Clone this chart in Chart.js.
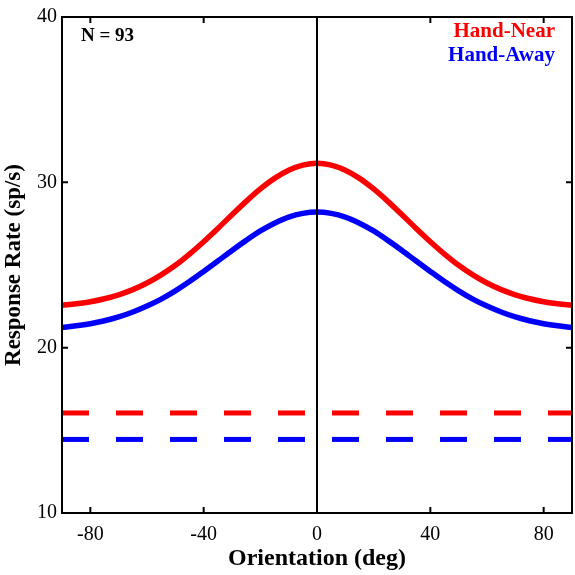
<!DOCTYPE html>
<html>
<head>
<meta charset="utf-8">
<script src="https://cdn.jsdelivr.net/npm/chart.js@4"></script>
<style>
  html, body { margin: 0; padding: 0; background: #fff; }
  #wrap { width: 575px; height: 575px; }
</style>
</head>
<body>
<div id="wrap"><canvas id="tuningChart" width="575" height="575"></canvas></div>
<script>
// orientation (deg) and mean response (sp/s)
const orientations = [-90, -85, -80, -75, -70, -65, -60, -55, -50, -45, -40, -35, -30, -25, -20, -15, -10, -5,
    0, 5, 10, 15, 20, 25, 30, 35, 40, 45, 50, 55, 60, 65, 70, 75, 80, 85, 90];
const handNear = [22.57, 22.66, 22.78, 22.96, 23.20, 23.51, 23.91, 24.40, 24.98, 25.66, 26.41, 27.21, 28.04, 28.85, 29.60, 30.24, 30.73, 31.04,
    31.15, 31.04, 30.73, 30.24, 29.60, 28.85, 28.04, 27.21, 26.41, 25.66, 24.98, 24.40, 23.91, 23.51, 23.20, 22.96, 22.78, 22.66, 22.57];
const handAway = [21.22, 21.32, 21.45, 21.63, 21.86, 22.16, 22.52, 22.94, 23.44, 24.00, 24.61, 25.24, 25.88, 26.49, 27.06, 27.53, 27.90, 28.12,
    28.20, 28.12, 27.90, 27.53, 27.06, 26.49, 25.88, 25.24, 24.61, 24.00, 23.44, 22.94, 22.52, 22.16, 21.86, 21.63, 21.45, 21.32, 21.22];

// baseline (spontaneous) rates, drawn as dashed lines across the range
const baselineX = [-90, 90];
const handNearBaseline = [16.05, 16.05];
const handAwayBaseline = [14.45, 14.45];

// vertical marker at preferred orientation
const zeroLineX = [0, 0];
const zeroLineY = [10, 40];

const xTickValues = [-80, -40, 0, 40, 80];
const yTickValues = [10, 20, 30, 40];

const seriesNames = ['Hand-Near', 'Hand-Away'];
const nLabel = 'N = 93';

const RED = 'rgb(250, 0, 0)';
const BLUE = 'rgb(0, 0, 250)';
const SERIF = '"Liberation Serif", "Times New Roman", serif';

const toPoints = (xs, ys) => xs.map((x, i) => ({ x: x, y: ys[i] }));

// frame, inward ticks and text labels (MATLAB style)
const framePlugin = {
    id: 'frame',
    afterDraw(chart) {
        const { ctx, chartArea: a, scales } = chart;
        const len = 6;
        ctx.save();
        ctx.strokeStyle = '#000';
        ctx.lineWidth = 2;
        ctx.strokeRect(a.left, a.top, a.right - a.left, a.bottom - a.top);
        ctx.beginPath();
        xTickValues.forEach(v => {
            const px = scales.x.getPixelForValue(v);
            ctx.moveTo(px, a.bottom); ctx.lineTo(px, a.bottom - len);
            ctx.moveTo(px, a.top); ctx.lineTo(px, a.top + len);
        });
        yTickValues.forEach(v => {
            const py = scales.y.getPixelForValue(v);
            ctx.moveTo(a.left, py); ctx.lineTo(a.left + len, py);
            ctx.moveTo(a.right, py); ctx.lineTo(a.right - len, py);
        });
        ctx.stroke();

        ctx.font = 'bold 19px ' + SERIF;
        ctx.fillStyle = '#000';
        ctx.textAlign = 'left';
        ctx.textBaseline = 'alphabetic';
        ctx.fillText(nLabel, a.left + 19, 41);

        ctx.font = 'bold 21px ' + SERIF;
        ctx.textAlign = 'right';
        ctx.fillStyle = RED;
        ctx.fillText(seriesNames[0], a.right - 17, 37);
        ctx.fillStyle = BLUE;
        ctx.fillText(seriesNames[1], a.right - 17, 61);
        ctx.restore();
    }
};

const ctx = document.getElementById('tuningChart').getContext('2d');

new Chart(ctx, {
    type: 'line',
    data: {
        datasets: [
            {
                label: 'zero',
                data: toPoints(zeroLineX, zeroLineY),
                borderColor: '#000',
                borderWidth: 2,
                pointRadius: 0
            },
            {
                label: seriesNames[0],
                data: toPoints(orientations, handNear),
                borderColor: RED,
                borderWidth: 5.5,
                pointRadius: 0,
                cubicInterpolationMode: 'monotone'
            },
            {
                label: seriesNames[1],
                data: toPoints(orientations, handAway),
                borderColor: BLUE,
                borderWidth: 5.5,
                pointRadius: 0,
                cubicInterpolationMode: 'monotone'
            },
            {
                label: seriesNames[0] + ' baseline',
                data: toPoints(baselineX, handNearBaseline),
                borderColor: RED,
                borderWidth: 5,
                borderDash: [27, 27],
                pointRadius: 0
            },
            {
                label: seriesNames[1] + ' baseline',
                data: toPoints(baselineX, handAwayBaseline),
                borderColor: BLUE,
                borderWidth: 5,
                borderDash: [27, 27],
                pointRadius: 0
            }
        ]
    },
    options: {
        responsive: false,
        animation: false,
        layout: { padding: { top: 8, right: 3, bottom: 0, left: 0 } },
        plugins: {
            legend: { display: false },
            tooltip: { enabled: false }
        },
        scales: {
            x: {
                type: 'linear',
                min: -90,
                max: 90,
                afterBuildTicks: scale => { scale.ticks = xTickValues.map(v => ({ value: v })); },
                afterFit: scale => { scale.height = 62; },
                grid: { display: false, drawTicks: false },
                border: { display: false },
                ticks: {
                    padding: 10,
                    color: '#000',
                    maxRotation: 0,
                    font: { family: SERIF, size: 20 }
                },
                title: {
                    display: true,
                    text: 'Orientation (deg)',
                    color: '#000',
                    padding: { top: 0, bottom: 2 },
                    font: { family: SERIF, size: 24, weight: 'bold' }
                }
            },
            y: {
                min: 10,
                max: 40,
                afterBuildTicks: scale => { scale.ticks = yTickValues.map(v => ({ value: v })); },
                afterFit: scale => { scale.width = 62; },
                grid: { display: false, drawTicks: false },
                border: { display: false },
                ticks: {
                    padding: 5,
                    color: '#000',
                    font: { family: SERIF, size: 20 }
                },
                title: {
                    display: true,
                    text: 'Response Rate (sp/s)',
                    color: '#000',
                    padding: 0,
                    font: { family: SERIF, size: 23, weight: 'bold' }
                }
            }
        }
    },
    plugins: [framePlugin]
});
</script>
</body>
</html>
